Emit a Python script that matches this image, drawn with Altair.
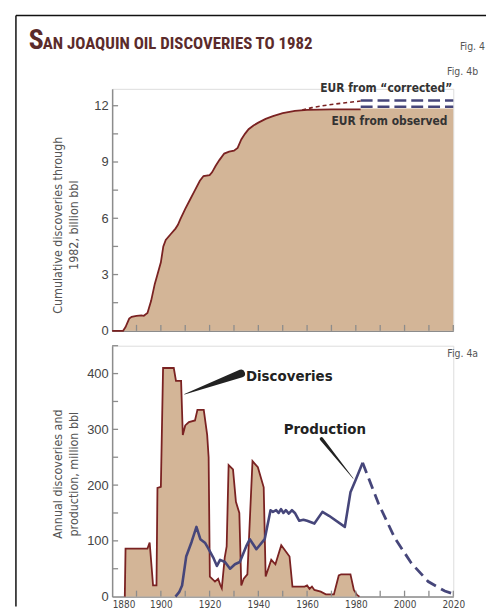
import altair as alt
import pandas as pd

# ---------------- data ----------------
# Fig. 4b cumulative discoveries (billion bbl)
cum_years = [1880, 1884.5, 1885.5, 1887, 1888, 1890, 1892, 1893, 1894.5, 1896, 1897.5, 1898.6,
             1900, 1901, 1902, 1904, 1906, 1907, 1908, 1910, 1912, 1914, 1916, 1917.5, 1920,
             1921, 1922.5, 1924, 1926, 1928, 1930, 1931.5, 1933, 1934.5, 1936, 1938, 1940,
             1943, 1946, 1950, 1955, 1960, 1970, 1982]
cum_vals = [0, 0, 0.2, 0.65, 0.75, 0.8, 0.82, 0.8, 0.95, 1.6, 2.5, 3.0,
            3.65, 4.5, 4.85, 5.15, 5.45, 5.65, 5.95, 6.5, 7.0, 7.5, 8.0, 8.25, 8.3,
            8.45, 8.8, 9.1, 9.45, 9.55, 9.6, 9.75, 10.2, 10.5, 10.75, 10.95, 11.1,
            11.3, 11.45, 11.6, 11.72, 11.78, 11.8, 11.8]
eur_obs_years = [1982.1, 2020]
eur_obs_vals = [11.85, 11.85]
corr_years = [1958, 1962, 1968, 1975, 1982]
corr_vals = [11.77, 11.9, 12.03, 12.15, 12.25]
corr_band_years = [1982, 2020]
corr_band_vals = [12.28, 11.95]

# Fig. 4a annual discoveries (million bbl)
disc_years = [1885.2, 1885.5, 1894.5, 1895.4, 1896.8, 1898.2, 1898.6, 1900, 1900.9, 1905.3,
              1906.2, 1908.3, 1909, 1910, 1911.5, 1914, 1915, 1917.6, 1919, 1919.6, 1920.1,
              1922.2, 1923.5, 1924.3, 1925, 1926.2, 1927, 1927.8, 1929.6, 1930.8, 1932.2,
              1933, 1934, 1935.5, 1937.6, 1939.8, 1942.2, 1943, 1945.3, 1947, 1949.4,
              1952.8, 1954, 1959, 1960, 1961, 1962, 1963, 1965.6, 1967.7, 1971, 1973,
              1974, 1977.8, 1979.2, 1980.5, 1981.5]
disc_vals = [0, 86, 86, 97, 20, 20, 195, 197, 410, 410,
             387, 387, 290, 307, 313, 316, 335, 335, 290, 250, 36,
             27, 32, 22, 15, 70, 90, 236, 228, 170, 150,
             20, 32, 40, 243, 232, 196, 36, 66, 58, 92,
             72, 18, 18, 20, 14, 18, 12, 9, 4, 4, 38,
             40, 40, 12, 3, 0]

# Fig. 4a annual production (million bbl)
prod_years = [1906, 1907.5, 1908.7, 1910.4, 1912.6, 1914.6, 1916.2, 1918.2, 1919.4, 1921.5,
              1923, 1924.3, 1926.3, 1928.4, 1930.4, 1932.4, 1935, 1936.5, 1939.2, 1942.6,
              1945, 1946, 1947.3, 1948.3, 1949.3, 1950.3, 1951.3, 1952.5, 1953.8, 1955,
              1956.8, 1958.5, 1960, 1963, 1966.3, 1969, 1975.5, 1977.8, 1979.8, 1982.8]
prod_vals = [0, 8, 20, 72, 98, 125, 103, 96, 87, 70,
             55, 66, 62, 50, 58, 62, 90, 103, 85, 103,
             155, 152, 155, 150, 157, 150, 155, 149, 155, 150,
             136, 138, 136, 131, 152, 145, 125, 187, 208, 240]
proj_years = [1982.8, 1989.3, 1996, 2002.8, 2009.7, 2016.5, 2020]
proj_vals = [240, 167, 105, 60, 27, 10, 5]

# axis ticks / labels
top_label_vals = [0, 3, 6, 9, 12]
top_tick_vals = [1.5, 3, 4.5, 6, 7.5, 9, 10.5, 12]
bot_label_vals = [0, 100, 200, 300, 400]
bot_tick_vals = [50, 100, 150, 200, 250, 300, 350, 400, 450]
x_label_vals = [1880, 1900, 1920, 1940, 1960, 1980, 2000, 2020]
x_tick_vals = [1890, 1900, 1910, 1920, 1930, 1940, 1950, 1960, 1970, 1980, 1990, 2000, 2010, 2020]

# annotation anchors (year, value)
disc_ptr_years = [1909.7, 1932.9]
disc_ptr_vals = [363, 400]
disc_ptr_w = [0.5, 8]
prod_ptr_years = [1965.9, 1978.9]
prod_ptr_vals = [283, 212]
prod_ptr_w = [3.5, 0.5]

# ---------------- style ----------------
FILL = "#d3b597"
MAROON = "#7a2222"
NAVY = "#46467a"
AXIS = "#8c8c8c"
TITLE_C = "#5b2b2b"
NARROW = "DejaVu Sans Condensed, Roboto, sans-serif"
TITLE_FONT = ("Liberation Sans Narrow, Arial Narrow, Noto Sans ExtraCondensed, "
              "Noto Sans Condensed, Roboto Condensed, DejaVu Sans Condensed, sans-serif")
SANS = "Liberation Sans, Arial, sans-serif"

W, H1, H2 = 344, 244, 253
xs = alt.Scale(domain=[1880, 2020], nice=False, zero=False)
y1s = alt.Scale(domain=[0, 12.9], nice=False)
y2s = alt.Scale(domain=[0, 450], nice=False)


def df(xv, yv, **extra):
    d = pd.DataFrame({"year": xv, "val": yv})
    for k, v in extra.items():
        d[k] = v
    d["i"] = range(len(d))
    return d


def txt(text, x, y, size, color, align="left", weight="normal", font=NARROW, baseline="middle"):
    return alt.Chart(pd.DataFrame({"t": [text]})).mark_text(
        align=align, baseline=baseline, fontSize=size, fontWeight=weight, font=font, color=color
    ).encode(x=alt.value(x), y=alt.value(y), text="t:N")


def atxt(text, year, val, size, color, ys, align="left", weight="bold"):
    return alt.Chart(pd.DataFrame({"t": [text], "year": [year], "val": [val]})).mark_text(
        align=align, baseline="middle", fontSize=size, fontWeight=weight, font=NARROW, color=color
    ).encode(x=alt.X("year:Q", scale=xs), y=alt.Y("val:Q", scale=ys), text="t:N")


xaxis_top = alt.Axis(labels=False, ticks=False, tickSize=0, title=None, grid=False,
                     domainColor=AXIS, domainWidth=1.5)
yaxis_top = alt.Axis(values=top_label_vals, ticks=False, tickSize=0, grid=False,
                     domainColor=AXIS, domainWidth=1.5, labelFont=SANS, labelFontSize=13,
                     labelColor="#444", labelPadding=4,
                     title=["Cumulative discoveries through", "1982, billion bbl"],
                     titleFont=NARROW, titleFontSize=12.5, titleFontWeight="normal",
                     titleColor="#555", titleX=-55, titleY=137, titleBaseline="middle",
                     titleLineHeight=16)

X1 = alt.X("year:Q", scale=xs, axis=xaxis_top)
Y1 = alt.Y("val:Q", scale=y1s, axis=yaxis_top, stack=None)

cum_df = df(cum_years + eur_obs_years, cum_vals + eur_obs_vals)
top_area = alt.Chart(cum_df).mark_area(color=FILL, opacity=1).encode(x=X1, y=Y1)
top_line = alt.Chart(df(cum_years, cum_vals)).mark_line(color=MAROON, strokeWidth=1.8).encode(
    x="year:Q", y="val:Q", order="i:Q")
corr_line = alt.Chart(df(corr_years, corr_vals)).mark_line(
    color=MAROON, strokeWidth=1.6, strokeDash=[4, 3]).encode(x="year:Q", y="val:Q", order="i:Q")
band_df = pd.DataFrame({"x1": [corr_band_years[0]] * 2, "x2": [corr_band_years[1]] * 2,
                        "val": corr_band_vals})
corr_band = alt.Chart(band_df).mark_rule(color=NAVY, strokeWidth=2.6, strokeDash=[12, 5]).encode(
    x="x1:Q", x2="x2:Q", y="val:Q")
top_yticks = alt.Chart(pd.DataFrame({"val": top_tick_vals})).mark_rule(
    color=AXIS, strokeWidth=1.3).encode(x=alt.value(0), x2=alt.value(6), y="val:Q")
top_xticks = alt.Chart(pd.DataFrame({"year": x_tick_vals})).mark_rule(
    color=AXIS, strokeWidth=1.3).encode(x="year:Q", y=alt.value(H1), y2=alt.value(H1 - 6))

frame_top = alt.Chart(pd.DataFrame({"a": [0]})).mark_rule(color="#111", strokeWidth=1.5).encode(
    x=alt.value(-97), x2=alt.value(377), y=alt.value(-74))
frame_left = alt.Chart(pd.DataFrame({"a": [0]})).mark_rule(color="#111", strokeWidth=1.5).encode(
    x=alt.value(-97), y=alt.value(-74), y2=alt.value(522))

top = alt.layer(
    top_area, top_line, corr_line, corr_band, top_yticks, top_xticks,
    atxt("EUR from \u201ccorrected\u201d", 2019.6, 12.95, 12, "#333", y1s, align="right"),
    atxt("EUR from observed", 2017.6, 11.16, 12, "#333", y1s, align="right"),
    frame_top, frame_left,
    txt("S", -84, -40, 28, TITLE_C, weight="bold", baseline="alphabetic", font=TITLE_FONT),
    txt("AN JOAQUIN OIL DISCOVERIES TO 1982", -70, -40, 17, TITLE_C, weight="bold",
        baseline="alphabetic", font=TITLE_FONT),
    txt("Fig. 4", 376, -42, 10.5, "#555", align="right"),
    txt("Fig. 4b", 369, -17, 10.5, "#555", align="right"),
).properties(width=W, height=H1)

# ---------------- bottom panel ----------------
xaxis_bot = alt.Axis(values=x_label_vals, format="d", ticks=False, tickSize=0, title=None,
                     grid=False, domainColor=AXIS, domainWidth=1.5, labelFont=NARROW,
                     labelFontSize=10, labelColor="#444", labelPadding=3, labelFlush=False,
                     labelAlign={"condition": {"test": "datum.value == 1880", "value": "left"},
                                 "value": "center"})
yaxis_bot = alt.Axis(values=bot_label_vals, ticks=False, tickSize=0, grid=False,
                     domainColor=AXIS, domainWidth=1.5, labelFont=SANS, labelFontSize=13,
                     labelColor="#444", labelPadding=4,
                     title=["Annual discoveries and", "production, million bbl"],
                     titleFont=NARROW, titleFontSize=12.5, titleFontWeight="normal",
                     titleColor="#555", titleX=-55, titleY=129, titleBaseline="middle",
                     titleLineHeight=16)
X2 = alt.X("year:Q", scale=xs, axis=xaxis_bot)
Y2 = alt.Y("val:Q", scale=y2s, axis=yaxis_bot, stack=None)

disc_df = df(disc_years, disc_vals)
disc_area = alt.Chart(disc_df).mark_area(color=FILL, opacity=1).encode(x=X2, y=Y2)
disc_line = alt.Chart(disc_df).mark_line(color=MAROON, strokeWidth=1.8).encode(
    x="year:Q", y="val:Q", order="i:Q")
prod_line = alt.Chart(df(prod_years, prod_vals)).mark_line(
    color=NAVY, strokeWidth=2.6, strokeJoin="round").encode(x="year:Q", y="val:Q", order="i:Q")
proj_line = alt.Chart(df(proj_years, proj_vals)).mark_line(
    color=NAVY, strokeWidth=2.8, strokeDash=[11, 6]).encode(x="year:Q", y="val:Q", order="i:Q")
bot_yticks = alt.Chart(pd.DataFrame({"val": bot_tick_vals})).mark_rule(
    color=AXIS, strokeWidth=1.3).encode(x=alt.value(0), x2=alt.value(6), y="val:Q")
bot_xticks = alt.Chart(pd.DataFrame({"year": x_tick_vals})).mark_rule(
    color=AXIS, strokeWidth=1.3).encode(x="year:Q", y=alt.value(H2), y2=alt.value(H2 - 6))
disc_ptr = alt.Chart(df(disc_ptr_years, disc_ptr_vals, w=disc_ptr_w)).mark_trail(color="#222").encode(
    x="year:Q", y="val:Q", size=alt.Size("w:Q", scale=None, legend=None), order="i:Q")
prod_ptr = alt.Chart(df(prod_ptr_years, prod_ptr_vals, w=prod_ptr_w)).mark_trail(color="#222").encode(
    x="year:Q", y="val:Q", size=alt.Size("w:Q", scale=None, legend=None), order="i:Q")

bottom = alt.layer(
    disc_area, disc_line, prod_line, proj_line, bot_yticks, bot_xticks, disc_ptr, prod_ptr,
    atxt("Discoveries", 1934.9, 395, 15, "#222", y2s),
    atxt("Production", 1950.4, 300.6, 15, "#222", y2s),
    txt("Fig. 4a", 369, 8, 10.5, "#555", align="right"),
).properties(width=W, height=H2)

chart = alt.vconcat(top, bottom, spacing=15, bounds="flush").properties(
    padding={"left": 6, "top": 3, "right": 0, "bottom": 0}
).configure_view(stroke=None).configure(background="white")

chart.save("out.html", embed_options={"renderer": "svg", "actions": False})
